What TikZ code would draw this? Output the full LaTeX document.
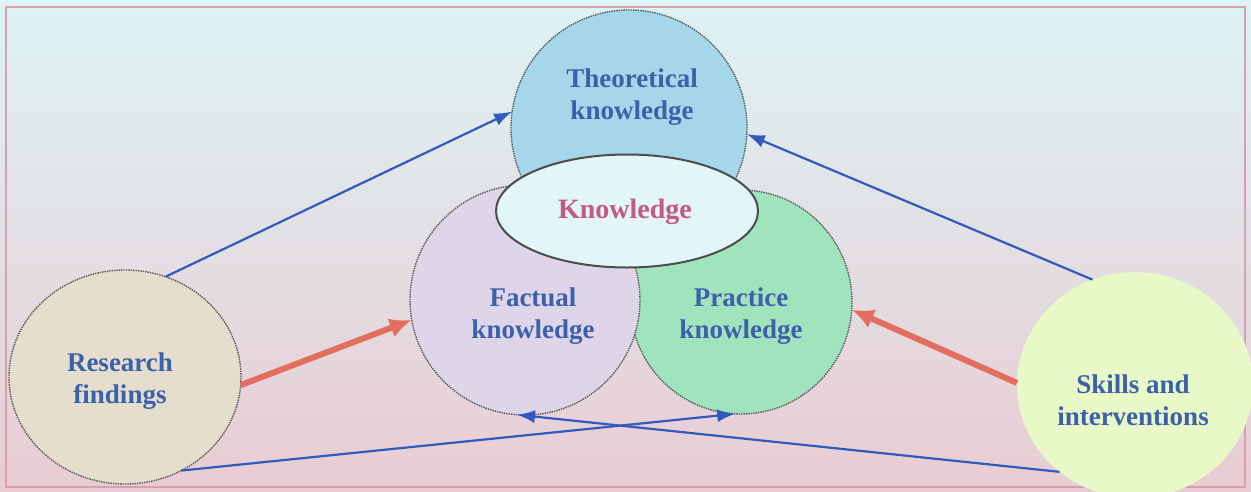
\documentclass[tikz,border=0pt]{standalone}
\usepackage{fontspec}
\setmainfont{Liberation Serif}
\usetikzlibrary{arrows.meta, shapes}

\definecolor{bgtop}{RGB}{221,243,244}
\definecolor{bgmid}{RGB}{228,226,228}
\definecolor{bgbot}{RGB}{232,204,211}
\definecolor{framepink}{RGB}{214,160,172}
\definecolor{theofill}{RGB}{165,214,234}
\definecolor{factfill}{RGB}{222,213,232}
\definecolor{pracfill}{RGB}{160,228,190}
\definecolor{resfill}{RGB}{229,222,205}
\definecolor{sklfill}{RGB}{232,248,198}
\definecolor{knowfill}{RGB}{226,246,248}
\definecolor{textblue}{RGB}{60,96,170}
\definecolor{textrose}{RGB}{196,90,126}
\definecolor{lineblue}{RGB}{50,90,190}
\definecolor{arrowred}{RGB}{226,110,95}

\begin{document}
\begin{tikzpicture}[x=1pt, y=-1pt, align=center,
  bubble/.style={ellipse, inner sep=0pt, outer sep=0pt, draw=black!65, densely dotted, line width=1.4pt},
  txt/.style={font=\fontsize{27}{32}\selectfont\bfseries, text=textblue},
  thinarrow/.style={draw=lineblue, line width=2.2pt, -{Latex[length=18pt, width=13pt]}},
  thickarrow/.style={draw=arrowred, line width=6pt, -{Latex[length=22pt, width=20pt]}}]
\useasboundingbox (0,0) rectangle (1251,491);
\shade[top color=bgtop, middle color=bgmid, bottom color=bgbot] (0,0) rectangle (1251,491);
\draw[framepink, line width=1.5pt] (6,7) rectangle (1245,487);

\node[bubble, fill=theofill, minimum width=236, minimum height=236] (theo) at (629,128) {};
\node[bubble, fill=pracfill, minimum width=222, minimum height=224] (prac) at (741,302) {};
\node[bubble, fill=factfill, minimum width=230, minimum height=230] (fact) at (525,300) {};
\node[bubble, fill=knowfill, draw=black!70, solid, line width=2pt, minimum width=262, minimum height=113] (know) at (627,211) {};
\node[bubble, fill=resfill, minimum width=232, minimum height=214] (res) at (125,377) {};
\node[ellipse, inner sep=0pt, outer sep=0pt, fill=sklfill, minimum width=236, minimum height=226] (skl) at (1135,385) {};

\node[txt] (theo-t) at (632,97) {Theoretical\\knowledge};
\node[txt, text=textrose, font=\fontsize{28}{32}\selectfont\bfseries] (know-t) at (625,212) {Knowledge};
\node[txt] (fact-t) at (533,316) {Factual\\knowledge};
\node[txt] (prac-t) at (741,316) {Practice\\knowledge};
\node[txt] (res-t) at (120,381) {Research\\findings};
\node[txt] (skl-t) at (1133,400) {Skills and\\interventions};

\path (res.68) edge[thinarrow] (theo.172)
      (skl.112) edge[thinarrow] (theo.357)
      (res.356) edge[thickarrow] (fact.190)
      (skl.179) edge[thickarrow] (prac.356)
      (res.301) edge[thinarrow] (prac.267)
      (skl.229) edge[thinarrow] (fact.266);
\end{tikzpicture}
\end{document}
